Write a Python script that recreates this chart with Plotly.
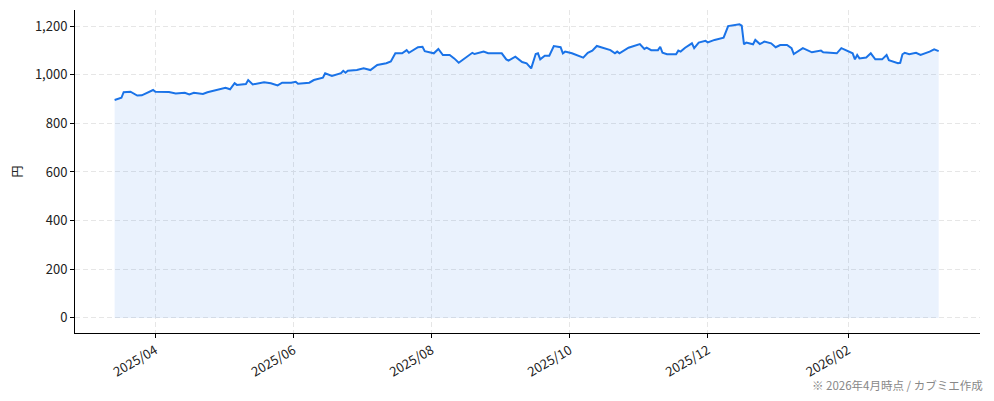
import plotly.graph_objects as go

# 株価推移 (終値, 円) - 画像から読み取り
dates = [
    "2025-03-14", "2025-03-17", "2025-03-18", "2025-03-21", "2025-03-24", "2025-03-26",
    "2025-03-31", "2025-04-01", "2025-04-07", "2025-04-10", "2025-04-14", "2025-04-16",
    "2025-04-18", "2025-04-22", "2025-04-24", "2025-04-28", "2025-04-30", "2025-05-02",
    "2025-05-04", "2025-05-06", "2025-05-07", "2025-05-11", "2025-05-12", "2025-05-14",
    "2025-05-19", "2025-05-22", "2025-05-25", "2025-05-27", "2025-05-31", "2025-06-02",
    "2025-06-03", "2025-06-08", "2025-06-10", "2025-06-12", "2025-06-14", "2025-06-15",
    "2025-06-17", "2025-06-18", "2025-06-22", "2025-06-23", "2025-06-24", "2025-06-25",
    "2025-06-29", "2025-07-02", "2025-07-05", "2025-07-08", "2025-07-12", "2025-07-14",
    "2025-07-16", "2025-07-19", "2025-07-21", "2025-07-22", "2025-07-26", "2025-07-28",
    "2025-07-29", "2025-08-02", "2025-08-04", "2025-08-06", "2025-08-09", "2025-08-11",
    "2025-08-13", "2025-08-17", "2025-08-19", "2025-08-20", "2025-08-24", "2025-08-26",
    "2025-09-01", "2025-09-03", "2025-09-04", "2025-09-07", "2025-09-09", "2025-09-10",
    "2025-09-12", "2025-09-13", "2025-09-14", "2025-09-16", "2025-09-17", "2025-09-18",
    "2025-09-20", "2025-09-22", "2025-09-24", "2025-09-27", "2025-09-28", "2025-09-29",
    "2025-10-02", "2025-10-07", "2025-10-09", "2025-10-11", "2025-10-13", "2025-10-19",
    "2025-10-21", "2025-10-22", "2025-10-23", "2025-10-27", "2025-11-01", "2025-11-03",
    "2025-11-04", "2025-11-06", "2025-11-09", "2025-11-10", "2025-11-11", "2025-11-13",
    "2025-11-17", "2025-11-18", "2025-11-19", "2025-11-21", "2025-11-24", "2025-11-25",
    "2025-11-27", "2025-11-30", "2025-12-01", "2025-12-04", "2025-12-07", "2025-12-08",
    "2025-12-10", "2025-12-15", "2025-12-16", "2025-12-17", "2025-12-18", "2025-12-21",
    "2025-12-22", "2025-12-24", "2025-12-26", "2025-12-29", "2025-12-31", "2026-01-02",
    "2026-01-05", "2026-01-07", "2026-01-08", "2026-01-12", "2026-01-16", "2026-01-19",
    "2026-01-20", "2026-01-21", "2026-01-27", "2026-01-29", "2026-02-02", "2026-02-03",
    "2026-02-04", "2026-02-05", "2026-02-06", "2026-02-09", "2026-02-11", "2026-02-13",
    "2026-02-16", "2026-02-18", "2026-02-19", "2026-02-23", "2026-02-24", "2026-02-25",
    "2026-02-26", "2026-02-28", "2026-03-03", "2026-03-05", "2026-03-09", "2026-03-11",
    "2026-03-13",
]
prices = [
    896, 905, 928, 930, 914, 915,
    937, 930, 929, 923, 926, 919,
    926, 921, 928, 936, 940, 946,
    940, 965, 958, 962, 978, 960,
    969, 965, 956, 967, 967, 971,
    963, 967, 978, 983, 988, 1006,
    999, 995, 1006, 1016, 1008, 1016,
    1019, 1026, 1019, 1040, 1047, 1054,
    1088, 1088, 1101, 1090, 1113, 1115,
    1097, 1088, 1106, 1081, 1081, 1067,
    1049, 1077, 1090, 1085, 1095, 1088,
    1088, 1063, 1058, 1074, 1058, 1052,
    1047, 1036, 1026, 1085, 1088, 1063,
    1078, 1078, 1118, 1113, 1088, 1095,
    1088, 1070, 1090, 1099, 1118, 1101,
    1088, 1095, 1088, 1111, 1126, 1106,
    1111, 1101, 1101, 1115, 1090, 1084,
    1084, 1099, 1095, 1111, 1129, 1109,
    1132, 1139, 1133, 1143, 1150, 1152,
    1200, 1207, 1202, 1125, 1132, 1125,
    1143, 1126, 1136, 1129, 1113, 1122,
    1122, 1109, 1085, 1109, 1092, 1095,
    1099, 1092, 1088, 1109, 1092, 1088,
    1063, 1081, 1067, 1071, 1088, 1063,
    1063, 1081, 1060, 1047, 1049, 1084,
    1090, 1084, 1090, 1081, 1095, 1104,
    1097,
]

tick_vals = ["2025-04-01", "2025-06-01", "2025-08-01", "2025-10-01", "2025-12-01", "2026-02-01"]
tick_text = ["2025/04", "2025/06", "2025/08", "2025/10", "2025/12", "2026/02"]

font_name = "Noto Sans CJK JP"
line_color = "#1a73e8"
grid_color = "#e6e6e6"

fig = go.Figure()
fig.add_trace(go.Scatter(
    x=dates, y=prices, mode="lines",
    line=dict(color=line_color, width=2),
    fill="tozeroy", fillcolor="rgba(26,115,232,0.09)",
    showlegend=False,
))

# ページ本体の余白(8px)を差し引いたサイズ
fig.update_layout(
    width=986, height=393,
    margin=dict(l=67, r=14, t=2, b=68),
    paper_bgcolor="white", plot_bgcolor="white",
    font=dict(family=font_name, size=13, color="#222"),
    annotations=[dict(
        text="※ 2026年4月時点 / カブミエ作成",
        xref="paper", yref="paper", x=1.006, y=-0.161,
        xanchor="right", yanchor="middle", showarrow=False,
        font=dict(family=font_name, size=11.5, color="#888"),
    )],
)
fig.update_xaxes(
    range=["2025-02-24 12:00", "2026-03-31 06:00"],
    tickvals=tick_vals, ticktext=tick_text, tickangle=-30,
    showline=True, linecolor="black", linewidth=1,
    ticks="outside", ticklen=4, tickcolor="black",
    showgrid=True, gridcolor=grid_color, griddash="5px,3px", gridwidth=1,
    zeroline=False, automargin=False,
)
fig.update_yaxes(
    range=[-62, 1266],
    tickvals=[0, 200, 400, 600, 800, 1000, 1200], tickformat=",d",
    showline=True, linecolor="black", linewidth=1,
    ticks="outside", ticklen=4, tickcolor="black",
    showgrid=True, gridcolor=grid_color, griddash="5px,3px", gridwidth=1,
    zeroline=False, automargin=False,
    title=dict(text="円", standoff=12, font=dict(size=12)),
)

fig.write_html("out.html")
